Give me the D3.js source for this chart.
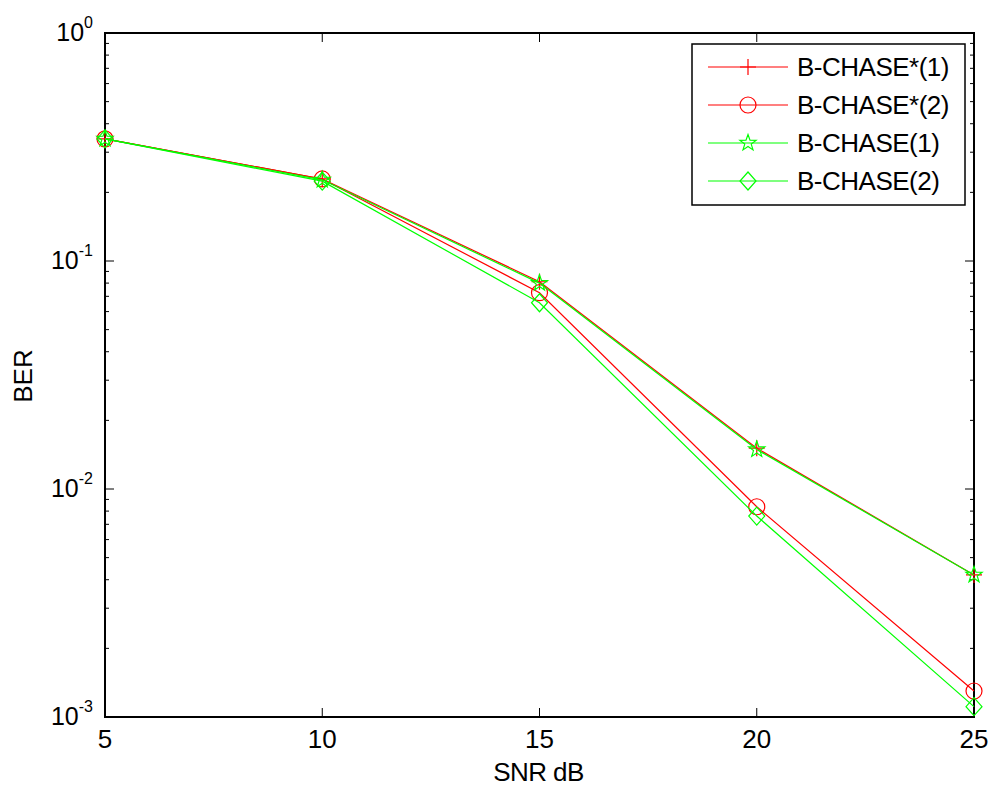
<!DOCTYPE html>
<html>
<head>
<meta charset="utf-8">
<script src="https://cdn.jsdelivr.net/npm/d3@7"></script>
<style>
  body { margin: 0; background: #fff; }
  text { font-family: "Liberation Sans", Arial, sans-serif; fill: #000; }
</style>
</head>
<body>
<div id="chart"></div>
<script>
// data
var snr = [5, 10, 15, 20, 25];
var chaseStar1 = [0.343, 0.229, 0.0811, 0.0151, 0.0042];
var chaseStar2 = [0.343, 0.229, 0.0726, 0.00836, 0.0013];
var chase1 = [0.343, 0.227, 0.0800, 0.0149, 0.0042];
var chase2 = [0.343, 0.224, 0.0656, 0.00761, 0.00111];
var seriesNames = ["B-CHASE*(1)", "B-CHASE*(2)", "B-CHASE(1)", "B-CHASE(2)"];
var seriesColors = ["#ff0000", "#ff0000", "#00ff00", "#00ff00"];
var seriesMarkers = ["plus", "circle", "star", "diamond"];
var xTicks = [5, 10, 15, 20, 25];
var yDecades = [0, -1, -2, -3];

var series = [chaseStar1, chaseStar2, chase1, chase2].map(function(vals, i) {
    return {
        name: seriesNames[i],
        color: seriesColors[i],
        marker: seriesMarkers[i],
        values: vals.map(function(v, j) { return {x: snr[j], y: v}; })
    };
});

var W = 995, H = 787;
var margin = {top: 33, right: 21, bottom: 70, left: 105};
var width = W - margin.left - margin.right;
var height = H - margin.top - margin.bottom;

var svg = d3.select("#chart").append("svg")
    .attr("width", W)
    .attr("height", H);

var g = svg.append("g")
    .attr("transform", "translate(" + margin.left + "," + margin.top + ")");

var x = d3.scaleLinear().domain([5, 25]).range([0, width]);
var y = d3.scaleLog().domain([1e-3, 1]).range([height, 0]);

// minor ticks on the log axis
var minor = [];
yDecades.slice(1).forEach(function(e) {
    for (var k = 2; k <= 9; k++) minor.push(k * Math.pow(10, e));
});

var ticks = g.append("g").attr("stroke", "#000").attr("stroke-width", 1);
minor.forEach(function(v) {
    ticks.append("line").attr("x1", 0).attr("x2", 4).attr("y1", y(v)).attr("y2", y(v));
    ticks.append("line").attr("x1", width).attr("x2", width - 4).attr("y1", y(v)).attr("y2", y(v));
});
yDecades.forEach(function(e) {
    var v = Math.pow(10, e);
    ticks.append("line").attr("x1", 0).attr("x2", 9).attr("y1", y(v)).attr("y2", y(v));
    ticks.append("line").attr("x1", width).attr("x2", width - 9).attr("y1", y(v)).attr("y2", y(v));
});
xTicks.forEach(function(t) {
    ticks.append("line").attr("x1", x(t)).attr("x2", x(t)).attr("y1", height).attr("y2", height - 9);
    ticks.append("line").attr("x1", x(t)).attr("x2", x(t)).attr("y1", 0).attr("y2", 9);
});

// box
g.append("rect")
    .attr("width", width).attr("height", height)
    .attr("fill", "none").attr("stroke", "#000").attr("stroke-width", 2);

// tick labels
g.selectAll(".xlab").data(xTicks).enter().append("text")
    .attr("class", "xlab")
    .attr("x", function(d) { return x(d); })
    .attr("y", height + 31)
    .attr("text-anchor", "middle")
    .style("font-size", "26px")
    .text(function(d) { return d; });

var ylab = g.selectAll(".ylab").data(yDecades).enter().append("text")
    .attr("class", "ylab")
    .attr("x", -12)
    .attr("y", function(d) { return y(Math.pow(10, d)) + 8; })
    .attr("text-anchor", "end")
    .style("font-size", "25px");
ylab.append("tspan").text("10");
ylab.append("tspan")
    .attr("dy", -13)
    .style("font-size", "16px")
    .text(function(d) { return d; });

// axis titles
g.append("text")
    .attr("x", width / 2 - 1)
    .attr("y", height + 64)
    .attr("text-anchor", "middle")
    .style("font-size", "26px")
    .style("letter-spacing", "-0.6px")
    .text("SNR dB");

g.append("text")
    .attr("transform", "translate(" + (32 - margin.left) + "," + (376 - margin.top) + ") rotate(-90)")
    .attr("text-anchor", "middle")
    .style("font-size", "26px")
    .text("BER");

// marker shapes
function markerPath(type) {
    if (type === "plus") return "M-8,0H8M0,-8V8";
    if (type === "circle") return d3.arc()({innerRadius: 0, outerRadius: 8, startAngle: 0, endAngle: 2 * Math.PI}).replace(/L0,0Z?$/, "Z");
    if (type === "diamond") return "M0,-9L8,0L0,9L-8,0Z";
    if (type === "star") {
        var pts = [];
        for (var i = 0; i < 10; i++) {
            var r = i % 2 === 0 ? 8.5 : 3.4;
            var a = Math.PI * i / 5 - Math.PI / 2;
            pts.push([r * Math.cos(a), r * Math.sin(a)]);
        }
        return "M" + pts.join("L") + "Z";
    }
}

var line = d3.line()
    .x(function(d) { return x(d.x); })
    .y(function(d) { return y(d.y); });

var sg = g.selectAll(".series").data(series).enter().append("g")
    .attr("class", "series");

sg.append("path")
    .attr("d", function(d) { return line(d.values); })
    .attr("fill", "none")
    .attr("stroke", function(d) { return d.color; })
    .attr("stroke-width", 1.2);

sg.each(function(s) {
    d3.select(this).selectAll("path.mk").data(s.values).enter().append("path")
        .attr("class", "mk")
        .attr("transform", function(d) { return "translate(" + x(d.x) + "," + y(d.y) + ")"; })
        .attr("d", markerPath(s.marker))
        .attr("fill", "none")
        .attr("stroke", s.color)
        .attr("stroke-width", 1.2);
});

// legend
var lg = svg.append("g").attr("transform", "translate(692,44)");
lg.append("rect")
    .attr("width", 273).attr("height", 161)
    .attr("fill", "#fff").attr("stroke", "#000").attr("stroke-width", 1.5);

var rows = lg.selectAll(".row").data(series).enter().append("g")
    .attr("class", "row")
    .attr("transform", function(d, i) { return "translate(0," + (23 + i * 38) + ")"; });

rows.append("line")
    .attr("x1", 16).attr("x2", 96)
    .attr("stroke", function(d) { return d.color; })
    .attr("stroke-width", 1.2);
rows.append("path")
    .attr("transform", "translate(56,0)")
    .attr("d", function(d) { return markerPath(d.marker); })
    .attr("fill", "none")
    .attr("stroke", function(d) { return d.color; })
    .attr("stroke-width", 1.2);
rows.append("text")
    .attr("x", 105)
    .attr("y", 9)
    .style("font-size", "26px")
    .style("letter-spacing", "-0.5px")
    .text(function(d) { return d.name; });
</script>
</body>
</html>
